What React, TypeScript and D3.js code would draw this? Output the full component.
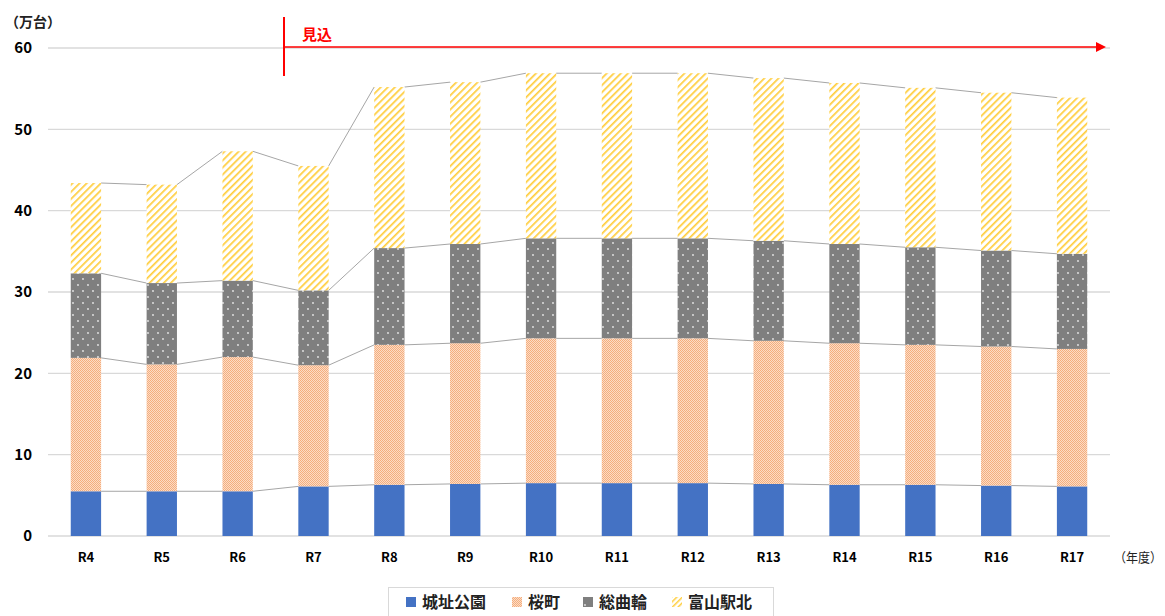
import React from 'react';
import * as d3 from 'd3';

const years = ['R4','R5','R6','R7','R8','R9','R10','R11','R12','R13','R14','R15','R16','R17'];
const jyoshi = [5.5,5.5,5.5,6.1,6.3,6.4,6.5,6.5,6.5,6.4,6.3,6.3,6.2,6.1];
const sakuramachi = [16.4,15.6,16.5,14.9,17.2,17.3,17.8,17.8,17.8,17.6,17.4,17.2,17.1,16.9];
const sogawa = [10.4,10.0,9.4,9.2,11.9,12.2,12.3,12.3,12.3,12.3,12.2,12.0,11.8,11.7];
const toyamaeki = [11.1,12.1,15.9,15.3,19.8,19.9,20.3,20.3,20.3,20.0,19.8,19.6,19.4,19.2];
const seriesNames = ['城址公園','桜町','総曲輪','富山駅北'];
const yTicks = [0,10,20,30,40,50,60];

const W = 1165, H = 616;
const font = '"Noto Sans CJK JP", "Noto Sans", sans-serif';

const App: React.FC = () => {
  const x = d3.scaleBand<string>().domain(years).range([48, 1110]).paddingInner(0.6).paddingOuter(0.3);
  const y = d3.scaleLinear().domain([0, 60]).range([536, 48]);

  const rows = years.map((yr, i) => ({ yr, a: jyoshi[i], b: sakuramachi[i], c: sogawa[i], d: toyamaeki[i] }));
  const stacked = d3.stack<any>().keys(['a','b','c','d'])(rows);
  const fills = ['#4472C4', 'url(#pOrange)', 'url(#pGray)', 'url(#pYellow)'];
  const legendFills = ['#4472C4', 'url(#pOrange)', 'url(#pGrayL)', 'url(#pYellowL)'];
  const bw = x.bandwidth();

  return (
    <svg width={W} height={H} style={{ position: 'absolute', left: 0, top: 0 }} fontFamily={font}>
      <defs>
        <pattern id="pOrange" width="2" height="2" patternUnits="userSpaceOnUse">
          <rect width="2" height="2" fill="#FCDCC6" />
          <rect x="0" y="0" width="1" height="1" fill="#F4AE7E" />
          <rect x="1" y="1" width="1" height="1" fill="#F4AE7E" />
        </pattern>
        <pattern id="pGray" width="10" height="12" patternUnits="userSpaceOnUse">
          <rect width="10" height="12" fill="#7F7F7F" />
          <circle cx="3" cy="3" r="0.9" fill="#e8e8e8" />
          <circle cx="8" cy="9" r="0.9" fill="#e8e8e8" />
        </pattern>
        <pattern id="pYellow" width="5" height="5" patternUnits="userSpaceOnUse" patternTransform="rotate(45)">
          <rect width="5" height="5" fill="#ffffff" />
          <rect width="1.7" height="5" fill="#FFCD3C" />
        </pattern>
        <pattern id="pGrayL" width="10" height="10" patternUnits="userSpaceOnUse">
          <rect width="10" height="10" fill="#7F7F7F" />
          <circle cx="5" cy="5" r="0.9" fill="#e8e8e8" />
        </pattern>
        <pattern id="pYellowL" width="4" height="4" patternUnits="userSpaceOnUse" patternTransform="rotate(45)">
          <rect width="4" height="4" fill="#ffffff" />
          <rect width="1.5" height="4" fill="#FFCD3C" />
        </pattern>
      </defs>

      {/* grid */}
      {yTicks.map(t => (
        <g key={t}>
          <line x1={48} x2={1110} y1={y(t)} y2={y(t)} stroke="#d9d9d9" strokeWidth={1.3} />
          <text x={32} y={y(t)} dy="0.36em" textAnchor="end" fontSize={15} fontWeight="bold" fill="#000">{t}</text>
        </g>
      ))}
      <text x={5} y={27} fontSize={14} fontWeight="bold" fill="#222">（万台）</text>

      {/* connector lines */}
      {stacked.map((s, si) => (
        <g key={'l' + si}>
          {s.slice(0, -1).map((d, i) => (
            <line key={i}
              x1={x(years[i])! + bw} y1={y(d[1])}
              x2={x(years[i + 1])!} y2={y(s[i + 1][1])}
              stroke="#a6a6a6" strokeWidth={1} />
          ))}
        </g>
      ))}

      {/* bars */}
      {stacked.map((s, si) => (
        <g key={'b' + si}>
          {s.map((d, i) => (
            <rect key={i} x={x(years[i])} y={y(d[1])} width={bw} height={y(d[0]) - y(d[1])}
              fill={fills[si]} />
          ))}
        </g>
      ))}

      {/* x labels */}
      {years.map(yr => (
        <text key={yr} x={x(yr)! + bw / 2} y={562} textAnchor="middle" fontSize={13} fontWeight="bold" fill="#000">{yr}</text>
      ))}
      <text x={1114} y={562} fontSize={13} textLength={48} lengthAdjust="spacingAndGlyphs" fill="#222">（年度）</text>

      {/* 見込 marker */}
      <line x1={284} x2={284} y1={17} y2={76} stroke="#FF0000" strokeWidth={2} />
      <line x1={284} x2={1098} y1={47} y2={47} stroke="#FF0000" strokeWidth={1.6} />
      <path d="M1106,47 L1096,42 L1096,52 Z" fill="#FF0000" />
      <text x={302} y={40} fontSize={15} fontWeight="bold" fill="#FF0000">見込</text>

      {/* legend */}
      <rect x={388.5} y={587.5} width={385} height={32} fill="#fff" stroke="#d9d9d9" />
      {seriesNames.map((n, i) => {
        const lx = [406, 512, 583, 672][i];
        return (
          <g key={n}>
            <rect x={lx} y={597} width={10} height={10} fill={legendFills[i]} />
            <text x={lx + 16} y={608} fontSize={16} fontWeight="bold" fill="#222">{n}</text>
          </g>
        );
      })}
    </svg>
  );
};

export default App;
